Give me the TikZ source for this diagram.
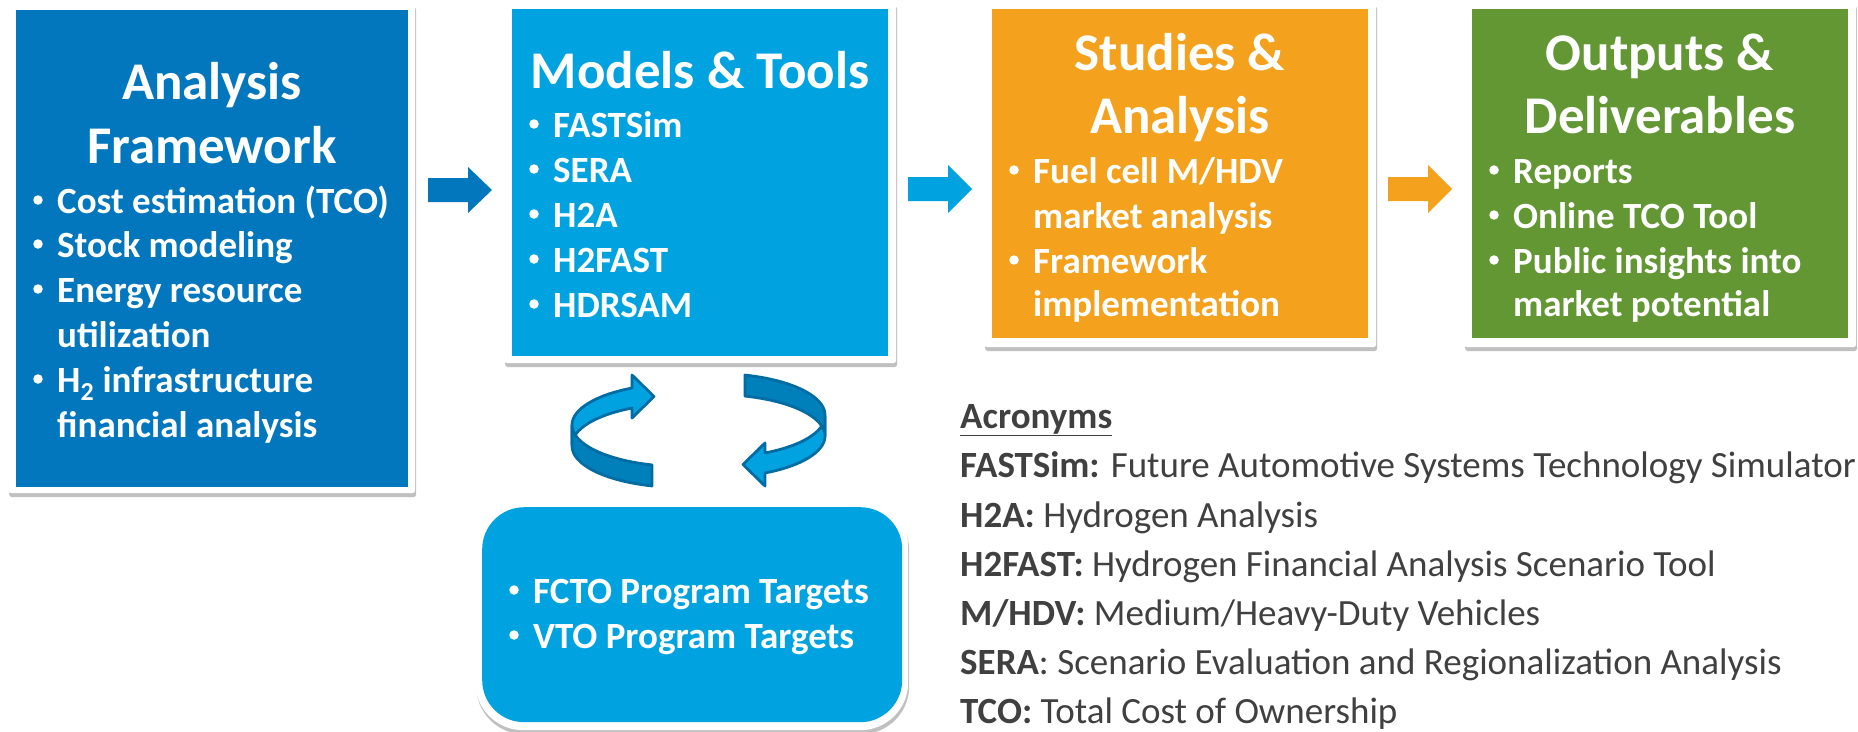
\documentclass[tikz,border=0pt]{standalone}
\usepackage{fontspec}
\setmainfont{Carlito}
\usetikzlibrary{shadows,calc}

\definecolor{dkblue}{RGB}{2,119,189}
\definecolor{ltblue}{RGB}{0,163,224}
\definecolor{orng}{RGB}{244,161,29}
\definecolor{grn}{RGB}{98,151,52}
\definecolor{txtgray}{RGB}{64,64,64}
\definecolor{ribdark}{RGB}{0,128,186}
\definecolor{ribline}{RGB}{0,108,163}

\newcommand\bul[4]{%
  \node[btext, anchor=base west] (#1) at (#2,#3) {#4};
  \node[bdot] (#1-dot) at ($(#2,#3)+(-19,-13)$) {};}

\newcommand\ribbonarrow{%
  \filldraw[ribback] ($(682,425)+(243:110 and 41.5)$)
    arc[start angle=243, end angle=180, x radius=110, y radius=41.5]
    -- ++(0,20)
    arc[start angle=180, end angle=243, x radius=110, y radius=41.5]
    -- (632,418) -- (654,396.5) -- (632,375) -- cycle;
  \filldraw[ribfront] (572,425)
    arc[start angle=180, end angle=105.8, x radius=110, y radius=41.5]
    -- ++(0,21)
    arc[start angle=105.8, end angle=180, x radius=110, y radius=41.5]
    -- cycle;}

\begin{document}
\begin{tikzpicture}[x=1pt, y=-1pt,
  frame/.style={fill=white, inner sep=0pt, anchor=north west, rounded corners=3pt,
    drop shadow={shadow xshift=1pt, shadow yshift=-4pt, opacity=0.35, fill=black!70}},
  panel/.style={inner sep=0pt, anchor=north west},
  ttl/.style={font=\fontsize{53}{53}\selectfont\bfseries, text=white, inner sep=0pt, anchor=base},
  btext/.style={font=\fontsize{37}{37}\selectfont\bfseries, text=white, inner sep=0pt},
  bdot/.style={circle, fill=white, minimum size=9.5pt, inner sep=0pt},
  acr/.style={font=\fontsize{37}{37}\selectfont, text=txtgray, inner sep=0pt, anchor=base west},
  ribback/.style={fill=ltblue, draw=ribline, line width=2.8pt, line join=round},
  ribfront/.style={fill=ribdark, draw=ribline, line width=2.8pt, line join=round}]
\useasboundingbox[fill=white] (0,0) rectangle (1858,731);

% ---- boxes
\node[frame, minimum width=407pt, minimum height=490pt] (f1) at (8,3) {};
\node[panel, fill=dkblue, minimum width=392pt, minimum height=477pt] (b1) at (16,10) {};
\node[frame, minimum width=392pt, minimum height=361pt] (f2) at (504,2) {};
\node[panel, fill=ltblue, minimum width=376pt, minimum height=347pt] (b2) at (512,9) {};
\node[frame, minimum width=392pt, minimum height=345pt] (f3) at (984,2) {};
\node[panel, fill=orng, minimum width=376pt, minimum height=329pt] (b3) at (992,9) {};
\node[frame, minimum width=392pt, minimum height=345pt] (f4) at (1464,2) {};
\node[panel, fill=grn, minimum width=376pt, minimum height=329pt] (b4) at (1472,9) {};
\node[frame, rounded corners=48pt, minimum width=433pt, minimum height=232pt] (f5) at (475,498) {};
\node[panel, fill=ltblue, rounded corners=42pt, minimum width=420pt, minimum height=215pt] (b5) at (482,507) {};

% ---- block arrows
\coordinate (a1) at (428,178);
\coordinate (a2) at (908,177);
\coordinate (a3) at (1388,177);
\fill[dkblue] (a1) -- ++(40,0) -- ++(0,-11) -- ++(24,23) -- ++(-24,23) -- ++(0,-11) -- ++(-40,0) -- cycle;
\fill[ltblue] (a2) -- ++(40,0) -- ++(0,-12) -- ++(24,24) -- ++(-24,24) -- ++(0,-12) -- ++(-40,0) -- cycle;
\fill[orng] (a3) -- ++(40,0) -- ++(0,-12) -- ++(24,24) -- ++(-24,24) -- ++(0,-12) -- ++(-40,0) -- cycle;

% ---- box 1
\node[ttl] (t1a) at (212,99) {Analysis};
\node[ttl] (t1b) at (212,163) {Framework};
\bul{l11}{57}{213}{Cost estimation (TCO)}
\bul{l12}{57}{257}{Stock modeling}
\bul{l13}{57}{302}{Energy resource}
\node[btext, anchor=base west] (l13b) at (57,347) {utilization};
\bul{l14}{57}{392}{H\textsubscript{2} infrastructure}
\node[btext, anchor=base west] (l14b) at (57,437) {financial analysis};

% ---- box 2
\node[ttl] (t2a) at (700,88) {Models \& Tools};
\bul{l21}{553}{137}{FASTSim}
\bul{l22}{553}{182}{SERA}
\bul{l23}{553}{227}{H2A}
\bul{l24}{553}{272}{H2FAST}
\bul{l25}{553}{317}{HDRSAM}

% ---- box 3
\node[ttl] (t3a) at (1180,70) {Studies \&};
\node[ttl] (t3b) at (1180,133) {Analysis};
\bul{l31}{1033}{183}{Fuel cell M/HDV}
\node[btext, anchor=base west] (l31b) at (1033,228) {market analysis};
\bul{l32}{1033}{273}{Framework}
\node[btext, anchor=base west] (l32b) at (1033,316) {implementation};

% ---- box 4
\node[ttl] (t4a) at (1660,70) {Outputs \&};
\node[ttl] (t4b) at (1660,133) {Deliverables};
\bul{l41}{1513}{183}{Reports}
\bul{l42}{1513}{228}{Online TCO Tool}
\bul{l43}{1513}{273}{Public insights into}
\node[btext, anchor=base west] (l43b) at (1513,316) {market potential};

% ---- box 5
\bul{l51}{533}{603}{FCTO Program Targets}
\bul{l52}{533}{648}{VTO Program Targets}

% ---- cycle arrows
\ribbonarrow
\begin{scope}[rotate around={180:(698.5,430.5)}]
\ribbonarrow
\end{scope}

% ---- acronyms
\node[acr] (ac0) at (960,428) {\textbf{\underline{Acronyms}}};
\node[acr] (ac1) at (960,477) {\textbf{FASTSim:} Future Automotive Systems Technology Simulator};
\node[acr] (ac2) at (960,527) {\textbf{H2A:} Hydrogen Analysis};
\node[acr] (ac3) at (960,576) {\textbf{H2FAST:} Hydrogen Financial Analysis Scenario Tool};
\node[acr] (ac4) at (960,625) {\textbf{M/HDV:} Medium/Heavy-Duty Vehicles};
\node[acr] (ac5) at (960,674) {\textbf{SERA}: Scenario Evaluation and Regionalization Analysis};
\node[acr] (ac6) at (960,723) {\textbf{TCO:} Total Cost of Ownership};
\end{tikzpicture}
\end{document}
